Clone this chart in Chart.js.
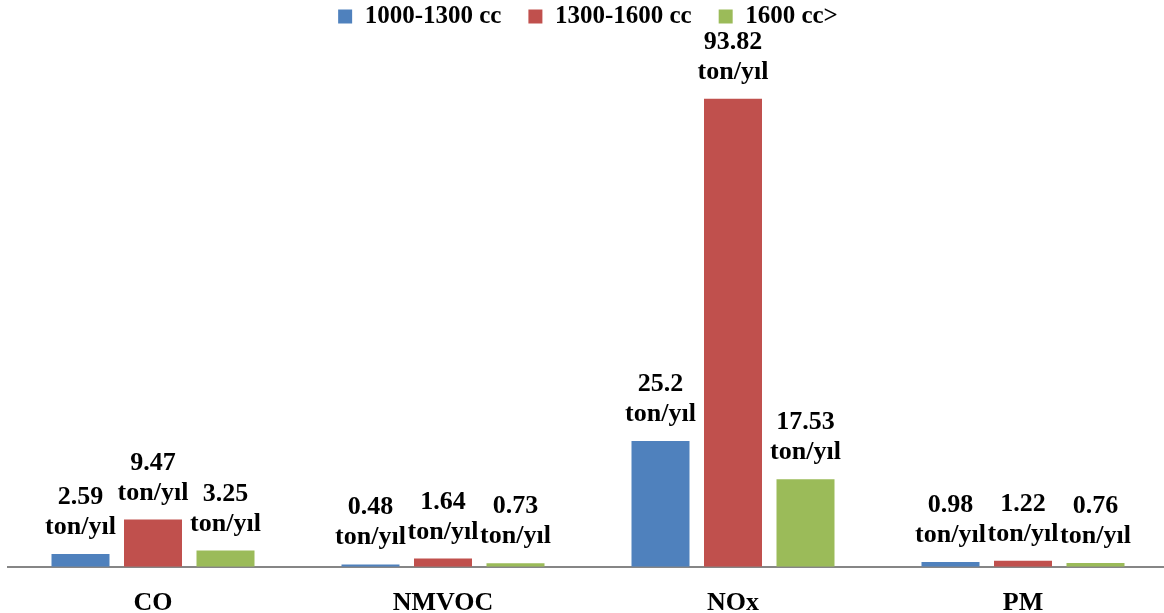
<!DOCTYPE html>
<html>
<head>
<meta charset="utf-8">
<script src="https://cdn.jsdelivr.net/npm/chart.js@4"></script>
<style>
  html, body { margin: 0; padding: 0; background: #ffffff; overflow: hidden; }
  #wrap { width: 1168px; height: 613px; position: relative; }
</style>
</head>
<body>
<div id="wrap"><canvas id="c"></canvas></div>
<script>
// Emission categories and per-engine-size yearly totals (ton/yıl)
const categories = ['CO', 'NMVOC', 'NOx', 'PM'];
const seriesNames = ['1000-1300 cc', '1300-1600 cc', '1600 cc>'];
const small = [2.59, 0.48, 25.2, 0.98];
const medium = [9.47, 1.64, 93.82, 1.22];
const large = [3.25, 0.73, 17.53, 0.76];
const unitLabel = 'ton/yıl';

const colors = ['#4F81BD', '#C0504D', '#9BBB59'];
const FONT = "'Liberation Serif', 'Times New Roman', serif";

// Two-line value labels above each bar: value, then unit
const valueLabels = {
  id: 'valueLabels',
  afterDatasetsDraw(chart) {
    const ctx = chart.ctx;
    ctx.save();
    ctx.font = 'bold 26px ' + FONT;
    ctx.fillStyle = '#000000';
    ctx.textAlign = 'center';
    ctx.textBaseline = 'alphabetic';
    chart.data.datasets.forEach((ds, i) => {
      const meta = chart.getDatasetMeta(i);
      meta.data.forEach((bar, j) => {
        const v = ds.data[j];
        ctx.fillText(String(v), bar.x, bar.y - 50);
        ctx.fillText(unitLabel, bar.x, bar.y - 20);
      });
    });
    ctx.restore();
  }
};

new Chart(document.getElementById('c'), {
  type: 'bar',
  data: {
    labels: categories,
    datasets: [
      { label: seriesNames[0], data: small, backgroundColor: colors[0] },
      { label: seriesNames[1], data: medium, backgroundColor: colors[1] },
      { label: seriesNames[2], data: large, backgroundColor: colors[2] }
    ]
  },
  options: {
    responsive: true,
    maintainAspectRatio: false,
    animation: false,
    layout: { padding: { left: 8, right: 0, top: -23, bottom: -27 } },
    datasets: {
      bar: { barPercentage: 0.8, categoryPercentage: 0.75 }
    },
    plugins: {
      legend: {
        position: 'top',
        labels: {
          boxWidth: 14,
          boxHeight: 14,
          padding: 27,
          color: '#000000',
          font: { family: FONT, size: 25, weight: 'bold' }
        }
      },
      tooltip: { enabled: false }
    },
    scales: {
      x: {
        grid: { display: false, drawTicks: false },
        border: { display: true, color: '#868686', width: 2 },
        ticks: {
          padding: 21,
          color: '#000000',
          font: { family: FONT, size: 26, weight: 'bold' }
        }
      },
      y: {
        display: false,
        min: 0,
        max: 105.8
      }
    }
  },
  plugins: [valueLabels]
});
</script>
</body>
</html>
